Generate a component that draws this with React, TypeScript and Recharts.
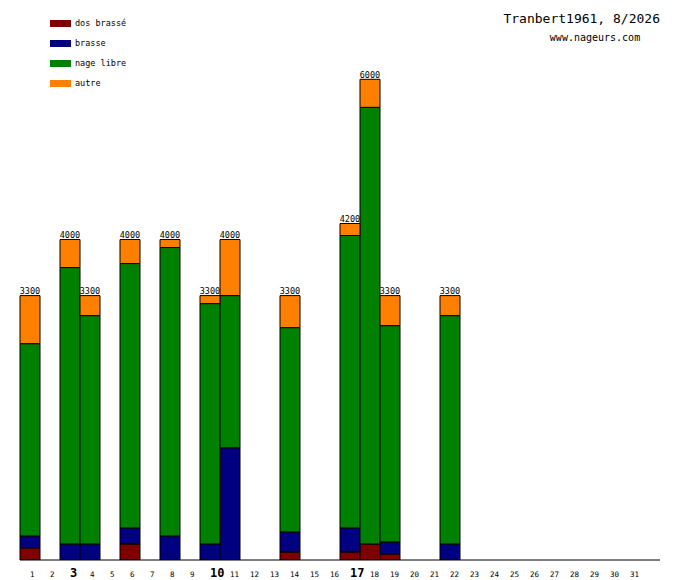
import React from "react";
import { BarChart, Bar, XAxis, YAxis, LabelList } from "recharts";

const days = [1, 2, 3, 4, 5, 6, 7, 8, 9, 10, 11, 12, 13, 14, 15, 16, 17, 18, 19, 20, 21, 22, 23, 24, 25, 26, 27, 28, 29, 30, 31];
const boldDays = [3, 10, 17];

const dosBrasse = [150, null, null, null, null, 200, null, null, null, null, null, null, null, 100, null, null, 100, 200, 75, null, null, null, null, null, null, null, null, null, null, null, null];
const brasse = [150, null, 200, 200, null, 200, null, 300, null, 200, 1400, null, null, 250, null, null, 300, null, 150, null, null, 200, null, null, null, null, null, null, null, null, null];
const nageLibre = [2400, null, 3450, 2850, null, 3300, null, 3600, null, 3000, 1900, null, null, 2550, null, null, 3650, 5450, 2700, null, null, 2850, null, null, null, null, null, null, null, null, null];
const autre = [600, null, 350, 250, null, 300, null, 100, null, 100, 700, null, null, 400, null, null, 150, 350, 375, null, null, 250, null, null, null, null, null, null, null, null, null];
const totals = [3300, null, 4000, 3300, null, 4000, null, 4000, null, 3300, 4000, null, null, 3300, null, null, 4200, 6000, 3300, null, null, 3300, null, null, null, null, null, null, null, null, null];

const seriesNames = ["dos brassé", "brasse", "nage libre", "autre"];
const seriesKeys = ["dos", "brasse", "libre", "autre"];
const seriesColors = ["#800000", "#000080", "#008000", "#ff8000"];

const title = "Tranbert1961, 8/2026";
const subtitle = "www.nageurs.com";

const data = days.map((d, i) => ({
  day: d,
  dos: dosBrasse[i],
  brasse: brasse[i],
  libre: nageLibre[i],
  autre: autre[i],
  total: totals[i],
}));

const FONT = "'DejaVu Sans Mono', monospace";

const DayTick = (props: any) => {
  const { x, y, payload } = props;
  const bold = boldDays.includes(Number(payload.value));
  return (
    <text
      x={x}
      y={y + 17}
      textAnchor="start"
      fontFamily={FONT}
      fontSize={bold ? 12 : 7.5}
      fontWeight={bold ? "bold" : "normal"}
      fill="#000"
    >
      {payload.value}
    </text>
  );
};

const TotalLabel = (props: any) => {
  const { x, y, width, value } = props;
  if (value == null) return null;
  return (
    <text
      x={Number(x) + Number(width) / 2}
      y={Number(y) - 1.5}
      textAnchor="middle"
      fontFamily={FONT}
      fontSize={8.5}
      fill="#000"
    >
      {value}
    </text>
  );
};

export default function App() {
  return (
    <div style={{ position: "absolute", left: 0, top: 0, width: 680, height: 580, background: "#fff" }}>
      <BarChart
        width={680}
        height={580}
        data={data}
        margin={{ top: 20, right: 20, left: 20, bottom: 0 }}
        barCategoryGap={0}
        barGap={0}
      >
        <XAxis
          dataKey="day"
          interval={0}
          tickLine={false}
          tickSize={0}
          tickMargin={0}
          height={20}
          axisLine={{ stroke: "#000" }}
          tick={<DayTick />}
          padding={{ left: 0, right: 20 }}
        />
        <YAxis
          type="number"
          domain={[0, 6740]}
          width={0}
          tick={false}
          tickLine={false}
          axisLine={{ stroke: "#000" }}
          allowDataOverflow
        />
        {seriesKeys.map((k, i) => (
          <Bar
            key={k}
            dataKey={k}
            stackId="a"
            fill={seriesColors[i]}
            stroke="#000"
            strokeWidth={1}
            isAnimationActive={false}
          >
            {k === "autre" ? <LabelList dataKey="total" content={<TotalLabel />} /> : null}
          </Bar>
        ))}
      </BarChart>
      <svg
        width={680}
        height={580}
        style={{ position: "absolute", left: 0, top: 0, pointerEvents: "none" }}
      >
        {seriesNames.map((n, i) => (
          <g key={n}>
            <rect x={50} y={20 + i * 20} width={21} height={7} fill={seriesColors[i]} />
            <text x={75} y={26 + i * 20} fontFamily={FONT} fontSize={8.5} fill="#000">
              {n}
            </text>
          </g>
        ))}
        <text x={660} y={23} textAnchor="end" fontFamily={FONT} fontSize={13} fill="#000">
          {title}
        </text>
        <text x={595} y={41} textAnchor="middle" fontFamily={FONT} fontSize={10} fill="#000">
          {subtitle}
        </text>
      </svg>
    </div>
  );
}
